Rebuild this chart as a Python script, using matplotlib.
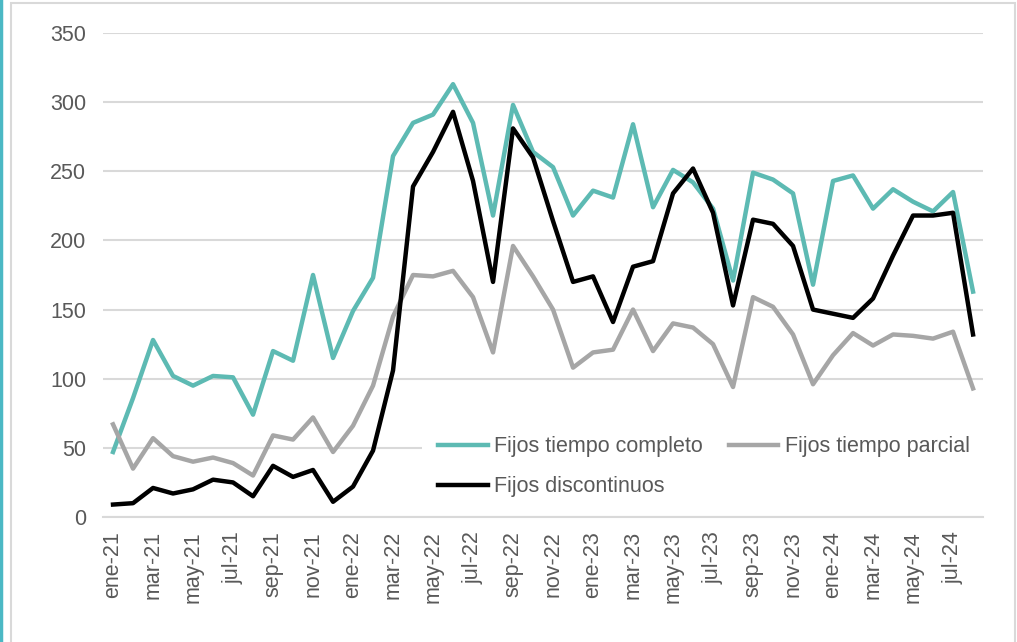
import matplotlib.pyplot as plt
from matplotlib.patches import Rectangle
from matplotlib.lines import Line2D

# Meses de ene-21 a ago-24
meses = ["ene", "feb", "mar", "abr", "may", "jun",
         "jul", "ago", "sep", "oct", "nov", "dic"]
anios = ["21", "22", "23", "24"]
etiquetas = [f"{m}-{a}" for a in anios for m in meses][:44]

tiempo_completo = [47, 86, 128, 102, 95, 102, 101, 74, 120, 113, 175, 115,
                   149, 173, 261, 285, 291, 313, 285, 218, 298, 264, 253, 218,
                   236, 231, 284, 224, 251, 242, 223, 171, 249, 244, 234, 168,
                   243, 247, 223, 237, 228, 221, 235, 163]

tiempo_parcial = [67, 35, 57, 44, 40, 43, 39, 30, 59, 56, 72, 47,
                  66, 95, 145, 175, 174, 178, 159, 119, 196, 174, 150, 108,
                  119, 121, 150, 120, 140, 137, 125, 94, 159, 152, 132, 96,
                  117, 133, 124, 132, 131, 129, 134, 93]

discontinuos = [9, 10, 21, 17, 20, 27, 25, 15, 37, 29, 34, 11,
                22, 48, 106, 239, 264, 293, 243, 170, 281, 260, 214, 170,
                174, 141, 181, 185, 234, 252, 220, 153, 215, 212, 196, 150,
                147, 144, 158, 189, 218, 218, 220, 132]

plt.rcParams["font.family"] = ["Liberation Sans", "DejaVu Sans"]

TEAL = "#5DBAB3"
GRIS = "#A6A6A6"
TEXTO = "#595959"

fig = plt.figure(figsize=(10.17, 6.42), dpi=100)
ax = fig.add_axes([0.1013, 0.1947, 0.8653, 0.7539])

# marco exterior y barra lateral
fig.patches.append(Rectangle((11 / 1017, -0.05), 1004 / 1017, 1.05 - 3 / 642,
                             transform=fig.transFigure, fill=False,
                             edgecolor="#D9D9D9", linewidth=1.5))
fig.lines.append(Line2D([1 / 1017, 1 / 1017], [0, 1], transform=fig.transFigure,
                        color="#4BB8C4", linewidth=2.5))

x = list(range(len(etiquetas)))
l1, = ax.plot(x, tiempo_completo, color=TEAL, lw=3.2, label="Fijos tiempo completo")
l2, = ax.plot(x, tiempo_parcial, color=GRIS, lw=3.2, label="Fijos tiempo parcial")
l3, = ax.plot(x, discontinuos, color="black", lw=3.2, label="Fijos discontinuos")

ax.set_xlim(-0.5, len(etiquetas) - 0.5)
ax.set_ylim(0, 350)
ax.set_yticks(range(0, 351, 50))
ax.set_xticks(x[::2])
ax.set_xticklabels(etiquetas[::2], rotation=90)

ax.grid(axis="y", color="#D9D9D9", linewidth=1.5)
ax.set_axisbelow(True)
for s in ["top", "right", "left"]:
    ax.spines[s].set_visible(False)
ax.spines["bottom"].set_color("#D9D9D9")
ax.spines["bottom"].set_linewidth(1.5)
ax.tick_params(axis="both", length=0, labelsize=15.5, labelcolor=TEXTO)
ax.tick_params(axis="x", pad=10)
ax.tick_params(axis="y", pad=12)

leg = ax.legend(handles=[l1, l3, l2], ncol=2, loc="upper left",
                bbox_to_anchor=(0.3625, 0.200), borderaxespad=0,
                fontsize=15.5, handlelength=2.3, handletextpad=0.3,
                columnspacing=1.2, labelspacing=0.88, borderpad=0.75,
                frameon=True, fancybox=False, framealpha=1)
leg.get_frame().set_facecolor("white")
leg.get_frame().set_edgecolor("none")
for t in leg.get_texts():
    t.set_color(TEXTO)

fig.savefig("out.png", dpi=100)
